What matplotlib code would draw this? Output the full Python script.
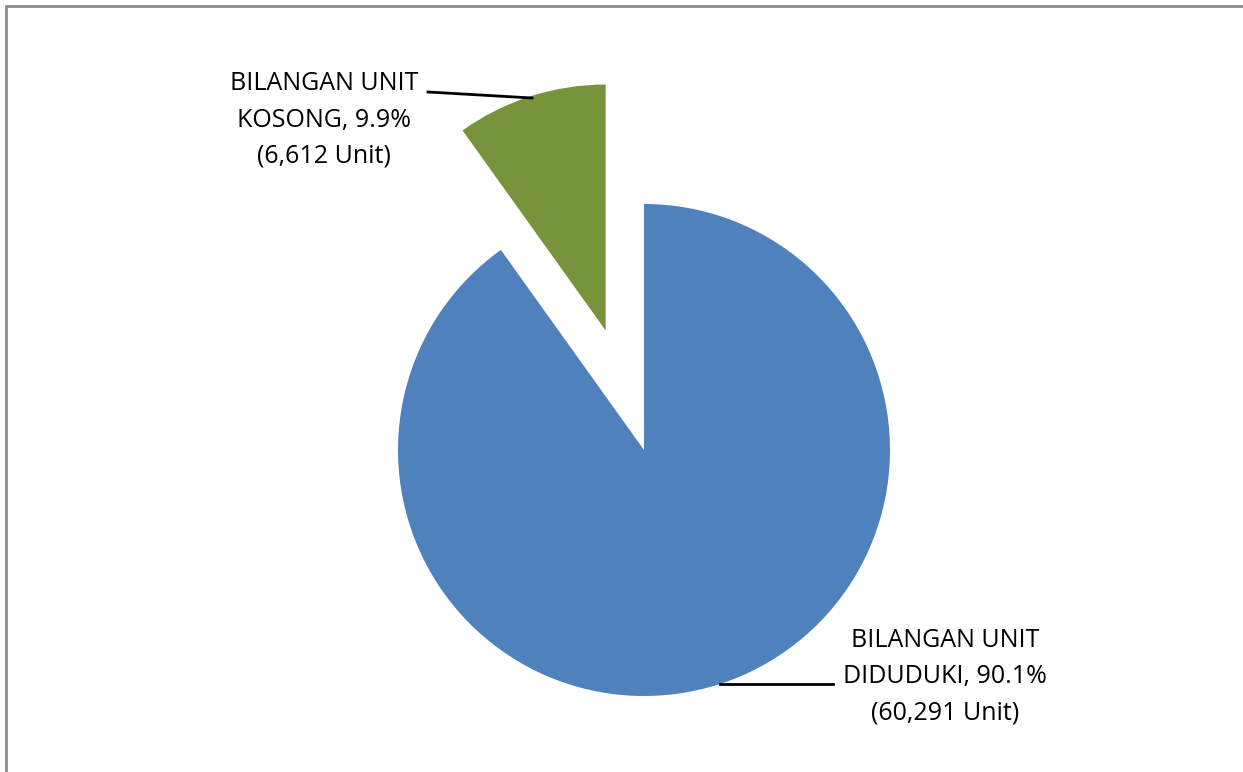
import matplotlib
matplotlib.use("Agg")
import matplotlib.pyplot as plt
from matplotlib.patches import Rectangle

# data
names = ["BILANGAN UNIT\nDIDUDUKI", "BILANGAN UNIT\nKOSONG"]
units = [60291, 6612]
colors = ["#4F81BD", "#77933C"]

W, H = 1243, 772
R = 246  # pie radius in pixels
fig = plt.figure(figsize=(W / 100, H / 100), dpi=100)
ax = fig.add_axes([0, 0, 1, 1])

# chart frame (gray border, runs off right/bottom edge)
fig.patches.append(Rectangle((6 / W, -0.05), 1.1, 1 - 6 / H + 0.05,
                             transform=fig.transFigure, fill=False,
                             edgecolor="#8c8c8c", linewidth=2))

# explode is in data units here, so scale by radius
ax.pie(units, colors=colors, startangle=90, counterclock=False,
       explode=[0, 0.51 * R], center=(644, H - 450), radius=R,
       wedgeprops=dict(linewidth=0))

# pie() changes the limits, so set pixel-like coords afterwards
ax.set_xlim(0, W)
ax.set_ylim(0, H)
ax.set_aspect("equal")
ax.axis("off")

total = sum(units)
labels = []
for n, u in zip(names, units):
    labels.append("%s, %.1f%%\n(%s Unit)" % (n, u / total * 100, format(u, ",")))

fnt = dict(family="Open Sans", fontsize=18, color="black",
           ha="center", va="center", multialignment="center", linespacing=1.58)

# blue label + leader line
ax.text(945, H - 677, labels[0], **fnt)
ax.plot([720, 833], [H - 684, H - 684], color="black", lw=2)

# green label + leader line
ax.text(324, H - 120, labels[1], **fnt)
ax.plot([428, 532], [H - 92, H - 98], color="black", lw=2)

fig.savefig("out.png", dpi=100)
